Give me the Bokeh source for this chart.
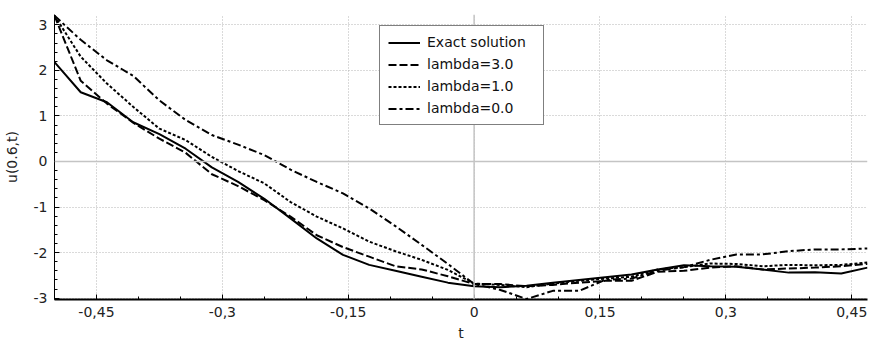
from bokeh.plotting import figure
from bokeh.models import (Range1d, FixedTicker, CustomJSTickFormatter, Span, Legend, LegendItem)
from bokeh.embed import file_html
from bokeh.resources import INLINE

t = [-0.5, -0.46875, -0.4375, -0.40625, -0.375, -0.34375, -0.3125, -0.28125,
     -0.25, -0.21875, -0.1875, -0.15625, -0.125, -0.09375, -0.0625, -0.03125,
     0.0, 0.03125, 0.0625, 0.09375, 0.125, 0.15625, 0.1875, 0.21875,
     0.25, 0.28125, 0.3125, 0.34375, 0.375, 0.40625, 0.4375, 0.46875]

exact = [2.18, 1.52, 1.30, 0.86, 0.60, 0.28, -0.13, -0.45,
         -0.82, -1.25, -1.69, -2.05, -2.27, -2.40, -2.53, -2.66,
         -2.74, -2.76, -2.73, -2.66, -2.60, -2.54, -2.48, -2.37,
         -2.28, -2.30, -2.31, -2.37, -2.44, -2.43, -2.46, -2.33]
lam3 = [3.20, 1.77, 1.27, 0.85, 0.50, 0.19, -0.28, -0.54,
        -0.85, -1.21, -1.62, -1.88, -2.09, -2.30, -2.37, -2.52,
        -2.69, -2.69, -2.74, -2.71, -2.66, -2.62, -2.62, -2.42,
        -2.40, -2.33, -2.30, -2.37, -2.35, -2.33, -2.30, -2.25]
lam1 = [3.20, 2.30, 1.71, 1.20, 0.72, 0.47, 0.10, -0.21,
        -0.48, -0.89, -1.21, -1.47, -1.76, -1.97, -2.16, -2.38,
        -2.68, -2.71, -2.76, -2.68, -2.62, -2.57, -2.53, -2.37,
        -2.32, -2.24, -2.25, -2.30, -2.27, -2.28, -2.27, -2.22]
lam0 = [3.20, 2.67, 2.22, 1.88, 1.34, 0.91, 0.58, 0.37,
        0.14, -0.18, -0.45, -0.70, -1.03, -1.42, -1.83, -2.25,
        -2.69, -2.82, -3.02, -2.84, -2.84, -2.60, -2.57, -2.40,
        -2.32, -2.16, -2.04, -2.04, -1.97, -1.93, -1.93, -1.91]

x_major = [-0.45, -0.3, -0.15, 0.0, 0.15, 0.3, 0.45]
x_minor = [-0.5, -0.4, -0.35, -0.25, -0.2, -0.1, -0.05, 0.05, 0.1, 0.2, 0.25, 0.35, 0.4]
y_major = [-3, -2, -1, 0, 1, 2, 3]
y_minor = [-3.0 + 0.2 * i for i in range(31)]

labels = ["Exact solution", "lambda=3.0", "lambda=1.0", "lambda=0.0"]
series = [exact, lam3, lam1, lam0]
dashes = ["solid", "8 3", "3 2", "8 3 3 3"]

FONT = "DejaVu Sans"

p = figure(width=882, height=347, output_backend="svg", toolbar_location=None,
           x_range=Range1d(-0.5, 0.46875), y_range=Range1d(-3.03, 3.226),
           min_border_left=54, min_border_right=15, min_border_top=14, min_border_bottom=48)
p.outline_line_color = None
p.background_fill_color = "white"

fmt = CustomJSTickFormatter(code="""
var v = Math.round(tick*100)/100;
return String(v).replace('.', ',');
""")

p.xaxis.ticker = FixedTicker(ticks=x_major, minor_ticks=x_minor)
p.yaxis.ticker = FixedTicker(ticks=y_major, minor_ticks=y_minor)
p.xaxis.formatter = fmt
p.yaxis.formatter = fmt

for ax in (p.xaxis[0], p.yaxis[0]):
    ax.major_tick_in = 5
    ax.major_tick_out = 0
    ax.minor_tick_in = 3
    ax.minor_tick_out = 0
    ax.major_tick_line_color = "black"
    ax.minor_tick_line_color = "black"
    ax.axis_line_color = "black"
    ax.major_label_text_font = FONT
    ax.major_label_text_font_size = "14px"
    ax.major_label_text_color = "#222222"
    ax.axis_label_text_font = FONT
    ax.axis_label_text_font_size = "14px"
    ax.axis_label_text_font_style = "normal"
    ax.axis_label_text_color = "#222222"
    ax.major_label_standoff = 7

p.xaxis.axis_label = "t"
p.yaxis.axis_label = "u(0.6,t)"
p.xaxis.axis_label_standoff = 5
p.yaxis.axis_label_standoff = 11
p.xaxis.axis_line_width = 2

p.xgrid.ticker = FixedTicker(ticks=x_major)
p.ygrid.ticker = FixedTicker(ticks=y_major)
for g in (p.xgrid[0], p.ygrid[0]):
    g.grid_line_color = "#b4b4b4"
    g.grid_line_dash = "1 2"
    g.grid_line_width = 1

p.add_layout(Span(location=0, dimension="width", line_color="#c4c4c4", line_width=1.5))
p.add_layout(Span(location=0, dimension="height", line_color="#c4c4c4", line_width=1.5))

items = []
for lab, ys, d in zip(labels, series, dashes):
    r = p.line(t, ys, line_color="black", line_width=2, line_dash=d)
    items.append(LegendItem(label=lab, renderers=[r]))

legend = Legend(items=items, location=(325, 174), margin=0, padding=8,
                spacing=6, label_height=15, glyph_height=15, glyph_width=32,
                label_standoff=7, label_width=108,
                label_text_font=FONT, label_text_font_size="14px",
                label_text_color="#111111",
                border_line_color="black", border_line_width=1,
                background_fill_color="white", background_fill_alpha=1.0)
p.add_layout(legend)

open("out.html", "w").write(file_html(p, INLINE))
